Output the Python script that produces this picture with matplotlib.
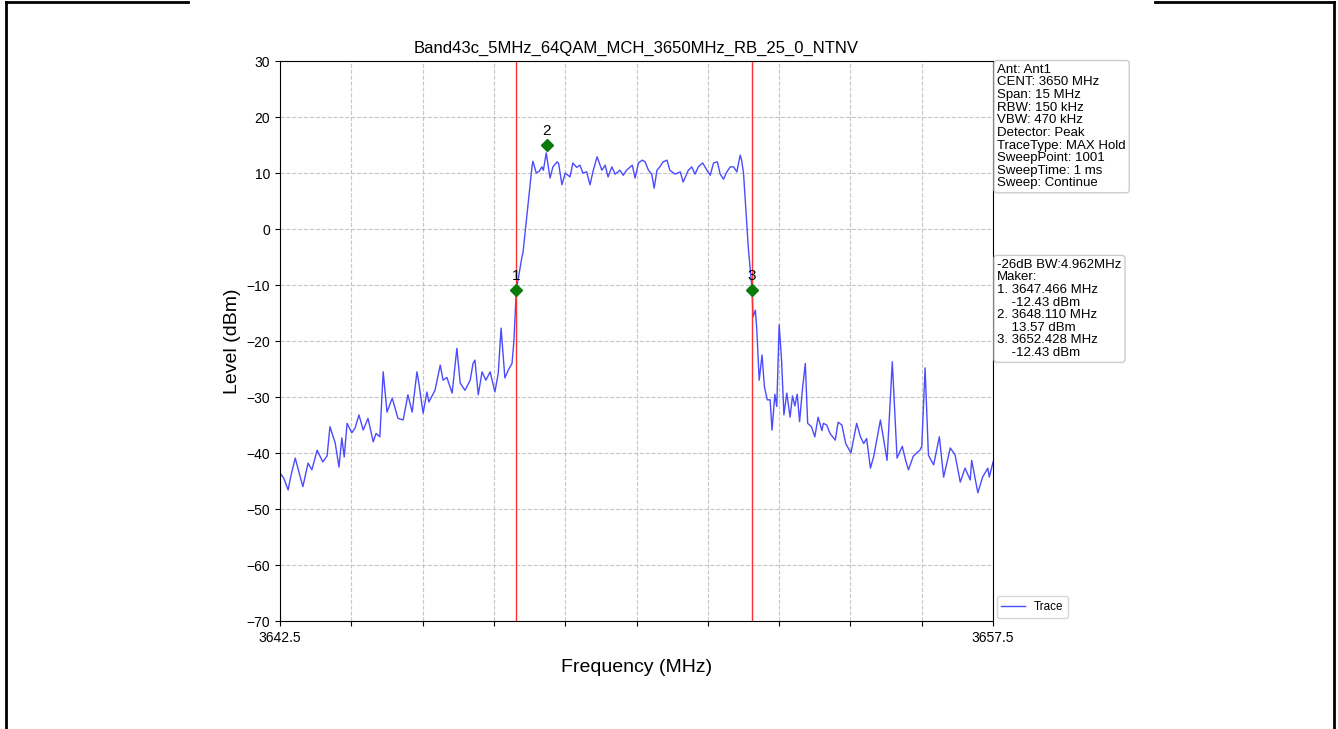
import matplotlib.pyplot as plt
from matplotlib.lines import Line2D

plt.rcParams['font.family'] = ['Liberation Sans', 'DejaVu Sans']

# Trace (MHz, dBm)
freq_mhz = [3642.50, 3642.58, 3642.67, 3642.73, 3642.82, 3642.90, 3642.98, 3643.09, 3643.17, 3643.28,
            3643.40, 3643.49, 3643.55, 3643.66, 3643.74, 3643.80, 3643.85, 3643.91, 3644.01, 3644.08,
            3644.16, 3644.25, 3644.35, 3644.46, 3644.52, 3644.60, 3644.67, 3644.75, 3644.86, 3644.98,
            3645.09, 3645.19, 3645.28, 3645.38, 3645.42, 3645.51, 3645.59, 3645.63, 3645.76, 3645.87,
            3645.93, 3646.01, 3646.12, 3646.22, 3646.29, 3646.39, 3646.50, 3646.56, 3646.60, 3646.67,
            3646.75, 3646.83, 3646.92, 3647.02, 3647.09, 3647.15, 3647.23, 3647.30, 3647.38, 3647.42,
            3647.47, 3647.53, 3647.59, 3647.61, 3647.72, 3647.80, 3647.82, 3647.89, 3647.95, 3648.01,
            3648.04, 3648.10, 3648.18, 3648.24, 3648.33, 3648.36, 3648.43, 3648.50, 3648.60, 3648.66,
            3648.74, 3648.81, 3648.87, 3648.95, 3649.02, 3649.09, 3649.17, 3649.27, 3649.34, 3649.40,
            3649.48, 3649.55, 3649.65, 3649.72, 3649.79, 3649.91, 3649.97, 3650.04, 3650.12, 3650.18,
            3650.25, 3650.32, 3650.37, 3650.43, 3650.49, 3650.56, 3650.64, 3650.70, 3650.81, 3650.92,
            3650.98, 3651.09, 3651.16, 3651.23, 3651.30, 3651.39, 3651.48, 3651.55, 3651.62, 3651.70,
            3651.76, 3651.83, 3651.90, 3651.97, 3652.04, 3652.11, 3652.18, 3652.21, 3652.25, 3652.35,
            3652.43, 3652.45, 3652.50, 3652.53, 3652.58, 3652.64, 3652.69, 3652.75, 3652.81, 3652.85,
            3652.91, 3652.95, 3653.00, 3653.05, 3653.10, 3653.16, 3653.23, 3653.28, 3653.33, 3653.38,
            3653.43, 3653.49, 3653.55, 3653.60, 3653.68, 3653.75, 3653.82, 3653.90, 3653.93, 3654.00,
            3654.07, 3654.18, 3654.24, 3654.32, 3654.40, 3654.51, 3654.63, 3654.71, 3654.78, 3654.84,
            3654.92, 3654.99, 3655.13, 3655.27, 3655.38, 3655.48, 3655.59, 3655.66, 3655.72, 3655.82,
            3655.89, 3655.96, 3656.00, 3656.07, 3656.14, 3656.25, 3656.37, 3656.46, 3656.60, 3656.70,
            3656.81, 3656.91, 3657.02, 3657.05, 3657.18, 3657.28, 3657.39, 3657.42, 3657.50]
level_dbm = [-43.6, -44.5, -46.6, -44.0, -40.9, -43.5, -46.0, -41.8, -43.0, -39.5,
             -41.6, -40.5, -35.3, -38.2, -42.5, -37.3, -40.7, -34.7, -36.4, -35.5,
             -33.2, -35.9, -33.8, -38.0, -36.5, -37.1, -25.5, -32.7, -30.2, -33.8,
             -34.1, -29.6, -32.7, -25.5, -27.5, -32.9, -29.1, -30.9, -28.8, -24.3,
             -27.0, -26.5, -29.3, -21.3, -27.5, -28.8, -27.0, -24.0, -23.4, -29.6,
             -25.5, -27.0, -25.5, -29.1, -25.8, -17.7, -26.6, -25.2, -24.0, -20.0,
             -11.0, -8.0, -4.9, -4.3, 4.6, 11.1, 12.1, 10.0, 10.3, 11.1,
             10.5, 13.6, 9.1, 11.1, 12.0, 11.7, 7.9, 10.0, 9.3, 11.8,
             11.0, 11.4, 10.0, 10.2, 7.9, 10.5, 12.9, 10.5, 11.4, 9.3,
             11.1, 9.8, 10.5, 9.6, 10.5, 11.4, 9.1, 11.8, 12.3, 12.0,
             10.5, 9.8, 7.3, 10.5, 11.1, 12.0, 12.3, 10.5, 9.8, 10.2,
             8.4, 10.5, 11.1, 9.8, 11.1, 11.8, 10.5, 9.6, 11.8, 12.0,
             9.8, 8.9, 10.2, 11.1, 11.1, 10.2, 13.2, 12.3, 10.0, -3.2,
             -10.9, -15.7, -14.5, -18.0, -27.0, -22.5, -28.2, -30.5, -30.5, -35.9,
             -29.5, -31.7, -17.1, -23.3, -33.2, -29.3, -33.6, -29.8, -31.6, -29.5,
             -34.4, -28.6, -24.0, -34.7, -35.3, -37.1, -33.6, -36.0, -34.7, -35.0,
             -36.5, -37.7, -34.5, -35.0, -38.3, -40.0, -34.7, -37.1, -38.3, -37.4,
             -42.7, -40.6, -34.1, -41.3, -23.7, -40.9, -38.8, -41.3, -43.0, -40.6,
             -40.0, -39.5, -38.8, -24.8, -40.4, -42.1, -37.1, -44.3, -39.1, -40.3,
             -45.2, -42.7, -44.8, -41.3, -47.1, -44.3, -42.7, -44.3, -41.6]

# Markers
marker_freq = [3647.466, 3648.110, 3652.428]
marker_level = [-10.9, 15.0, -10.9]
marker_names = ['1', '2', '3']

x_ticks = [3642.5, 3644.0, 3645.5, 3647.0, 3648.5, 3650.0, 3651.5, 3653.0, 3654.5, 3656.0, 3657.5]
x_labels = ['3642.5', '', '', '', '', '', '', '', '', '', '3657.5']
y_ticks = [-70, -60, -50, -40, -30, -20, -10, 0, 10, 20, 30]

info_text = ('Ant: Ant1\nCENT: 3650 MHz\nSpan: 15 MHz\nRBW: 150 kHz\nVBW: 470 kHz\n'
             'Detector: Peak\nTraceType: MAX Hold\nSweepPoint: 1001\nSweepTime: 1 ms\nSweep: Continue')
marker_text = ('-26dB BW:4.962MHz\nMaker:\n1. 3647.466 MHz\n    -12.43 dBm\n2. 3648.110 MHz\n'
               '    13.57 dBm\n3. 3652.428 MHz\n    -12.43 dBm')

fig = plt.figure(figsize=(13.38, 7.29), dpi=100)
ax = fig.add_axes([0.2093, 0.1481, 0.5329, 0.7682])

ax.plot(freq_mhz, level_dbm, color='#4b4bff', linewidth=1, label='Trace')
for f in (marker_freq[0], marker_freq[2]):
    ax.axvline(f, color='#ff3030', linewidth=1)
ax.plot(marker_freq, marker_level, 'D', color='#0a7a0a', markersize=6, linestyle='none')
for f, lv, name in zip(marker_freq, marker_level, marker_names):
    ax.text(f, lv + 1.2, name, ha='center', va='bottom', fontsize=11)

ax.set_xlim(3642.5, 3657.5)
ax.set_ylim(-70, 30)
ax.set_xticks(x_ticks)
ax.set_xticklabels(x_labels, fontsize=10)
ax.set_yticks(y_ticks)
ax.tick_params(axis='y', labelsize=10)
ax.grid(True, color='#b8b8b8', linestyle='--', linewidth=0.8, alpha=0.8)
ax.set_title('Band43c_5MHz_64QAM_MCH_3650MHz_RB_25_0_NTNV', fontsize=12)
ax.set_xlabel('Frequency (MHz)', fontsize=14, labelpad=10)
ax.set_ylabel('Level (dBm)', fontsize=14)

box = dict(boxstyle='round,pad=0.25', facecolor='white', edgecolor='#cccccc')
ax.text(1.006, 0.995, info_text, transform=ax.transAxes, ha='left', va='top',
        fontsize=9.5, linespacing=1.07, bbox=box)
ax.text(1.006, 0.647, marker_text, transform=ax.transAxes, ha='left', va='top',
        fontsize=9.5, linespacing=1.07, bbox=box)
ax.legend(loc='lower left', bbox_to_anchor=(1.0, 0.0), fontsize=8.4, borderaxespad=0.3)

# page frame around the figure
for xs, ys in [([0.0045, 0.0045], [0.0, 0.997]), ([0.0045, 0.1405], [0.997, 0.997]),
               ([0.863, 0.997], [0.997, 0.997]), ([0.997, 0.997], [0.0, 0.997])]:
    fig.add_artist(Line2D(xs, ys, color='black', linewidth=2, transform=fig.transFigure))

plt.savefig('out.png', dpi=100)
